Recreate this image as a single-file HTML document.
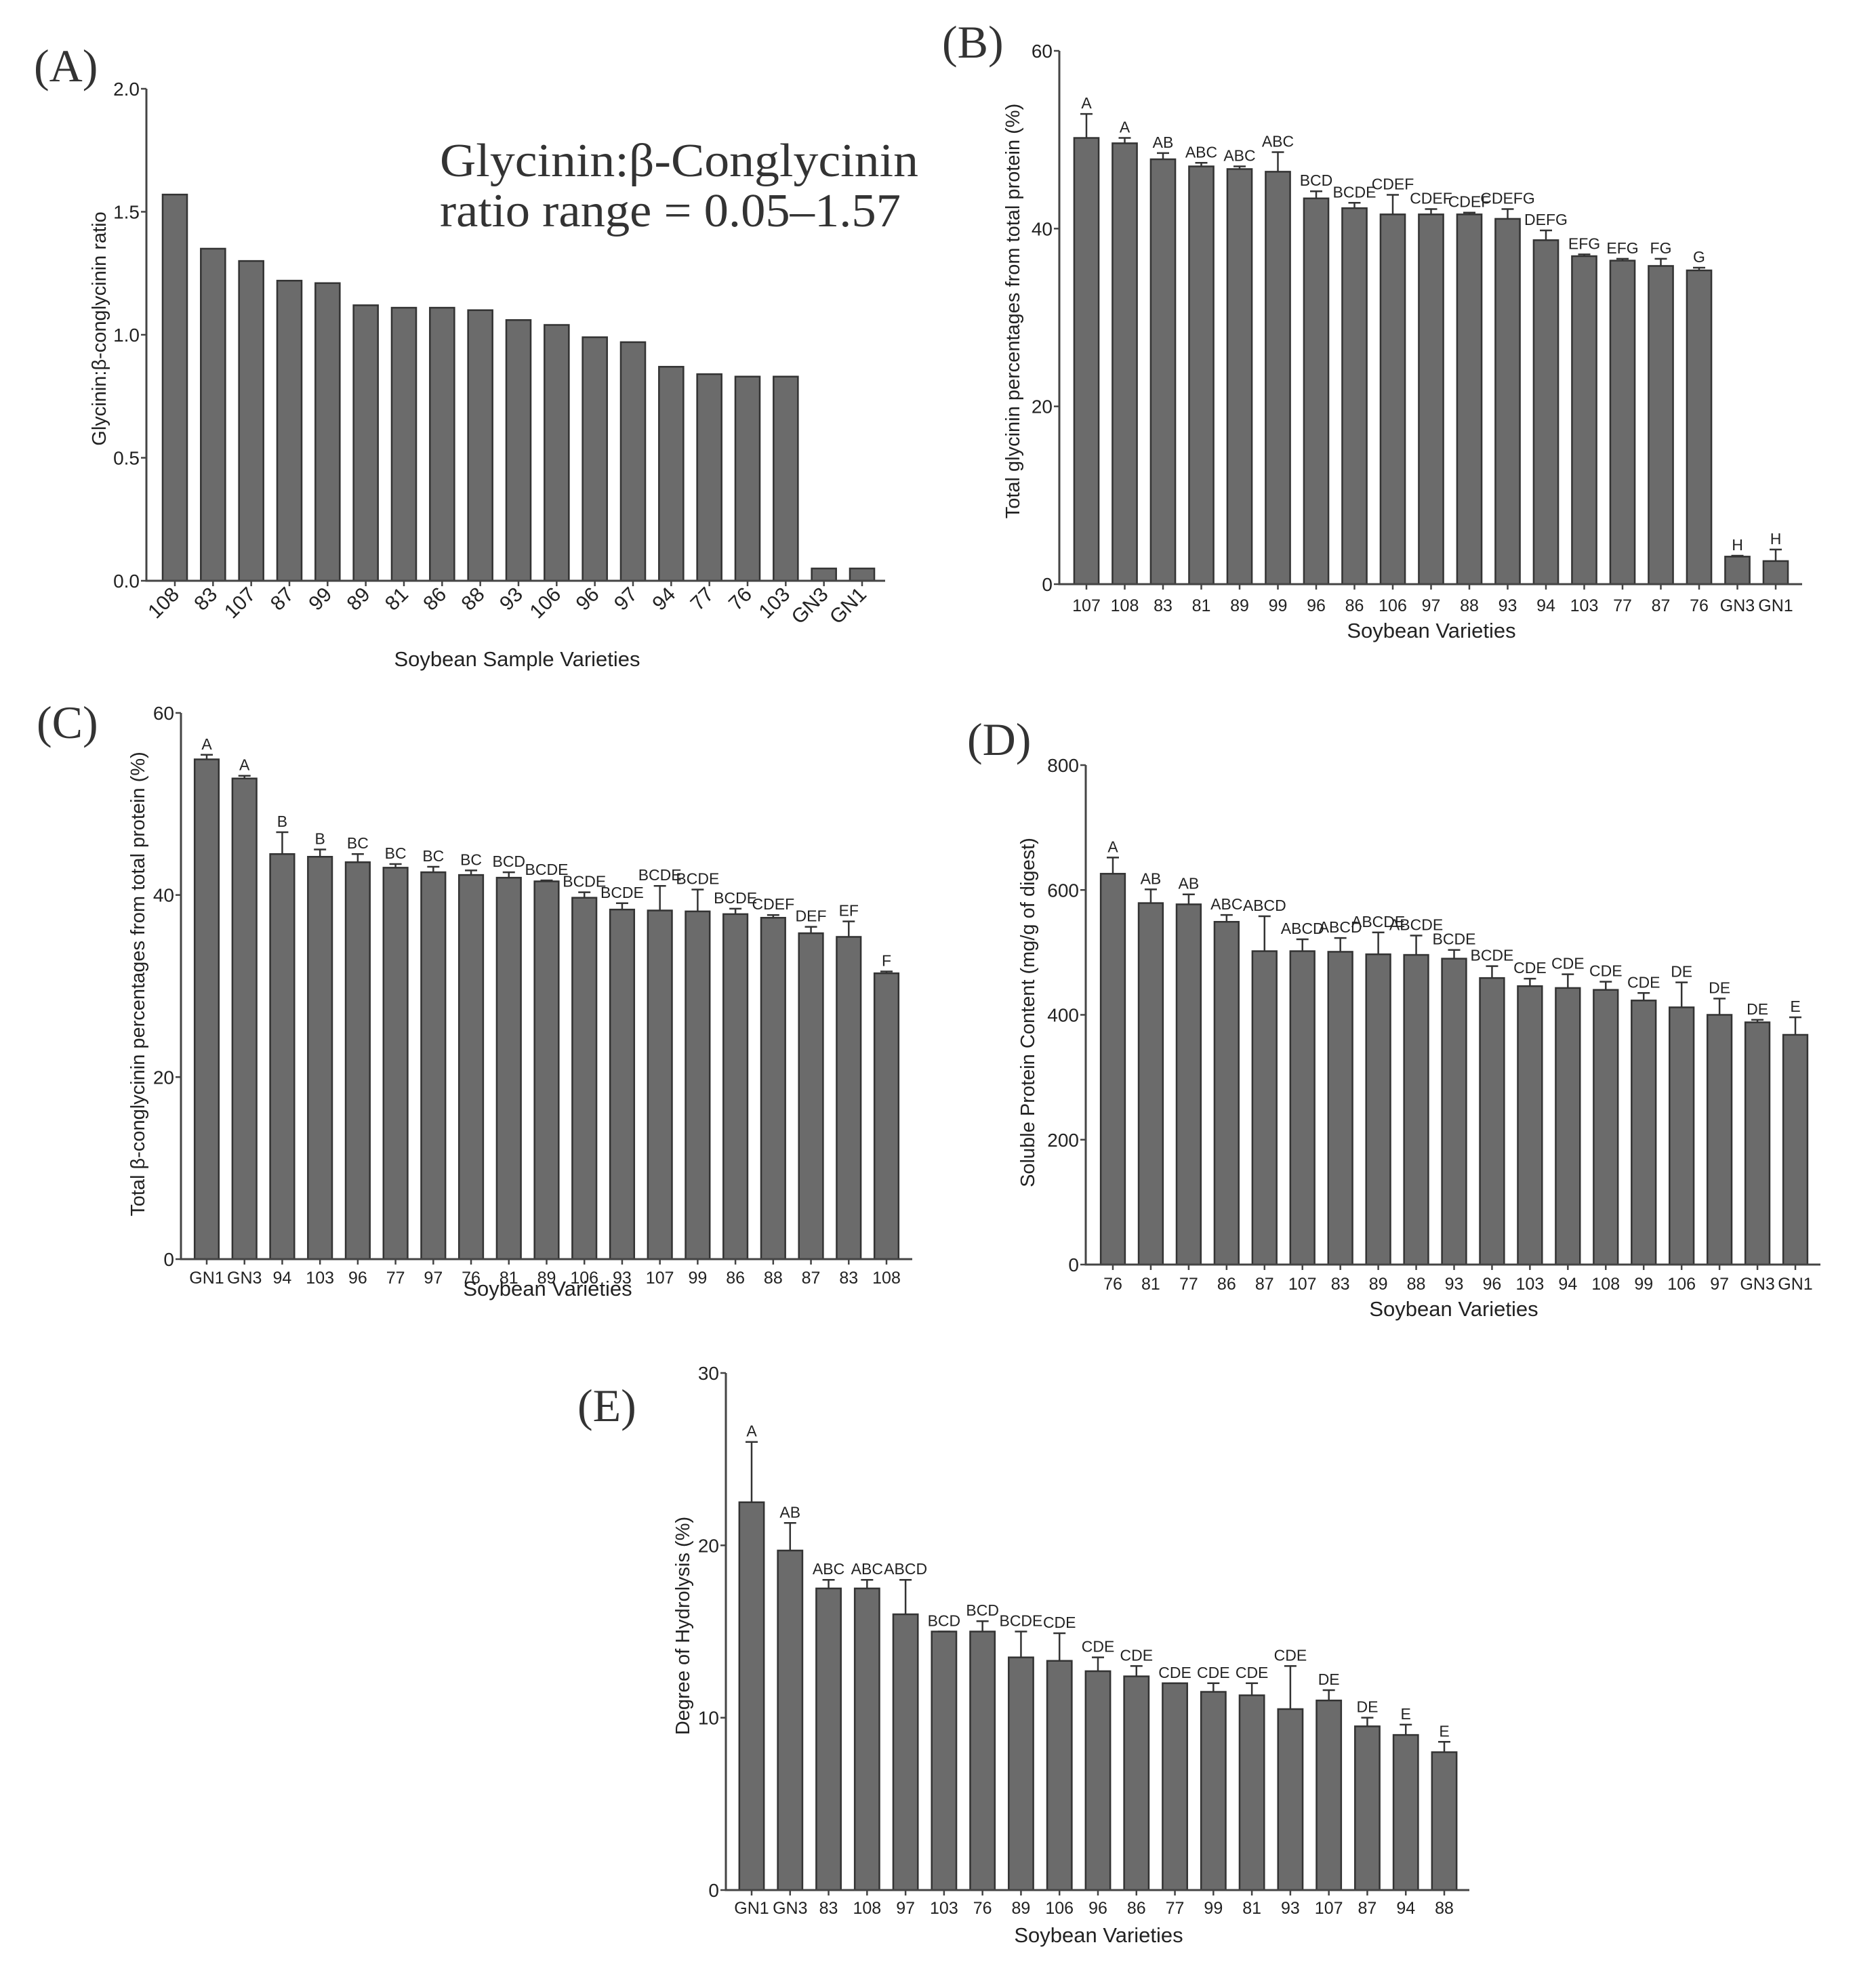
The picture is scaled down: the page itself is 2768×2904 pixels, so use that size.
<!DOCTYPE html>
<html><head><meta charset="utf-8"><style>
html,body{margin:0;padding:0;background:#fff;}
svg{display:block;}
text{font-family:"Liberation Sans",sans-serif;fill:#222;}
.serif{font-family:"Liberation Serif",serif;fill:#333;}
</style></head><body>
<svg id="fig" width="2768" height="2904" viewBox="0 0 2768 2904" xmlns="http://www.w3.org/2000/svg">
<rect width="2768" height="2904" fill="#fff"/>
<text class="serif" x="50" y="120" font-size="68">(A)</text>
<text class="serif" x="1390" y="85" font-size="68">(B)</text>
<text class="serif" x="54" y="1089" font-size="68">(C)</text>
<text class="serif" x="1427" y="1114" font-size="68">(D)</text>
<text class="serif" x="852" y="2097" font-size="68">(E)</text>
<text class="serif" x="649" y="260" font-size="70" textLength="706" lengthAdjust="spacingAndGlyphs">Glycinin:β-Conglycinin</text>
<text class="serif" x="649" y="334" font-size="70" textLength="680" lengthAdjust="spacingAndGlyphs">ratio range = 0.05–1.57</text>
</svg>
<script>
const aCats=["108","83","107","87","99","89","81","86","88","93","106","96","97","94","77","76","103","GN3","GN1"];
const aVals=[1.57,1.35,1.30,1.22,1.21,1.12,1.11,1.11,1.10,1.06,1.04,0.99,0.97,0.87,0.84,0.83,0.83,0.05,0.05];
const aTicks=[0,0.5,1.0,1.5,2.0];

const bCats=["107","108","83","81","89","99","96","86","106","97","88","93","94","103","77","87","76","GN3","GN1"];
const bVals=[50.2,49.6,47.8,47.0,46.7,46.4,43.4,42.3,41.6,41.6,41.6,41.1,38.7,36.9,36.4,35.8,35.3,3.1,2.6];
const bErr=[2.7,0.6,0.7,0.4,0.3,2.2,0.8,0.6,2.2,0.6,0.2,1.1,1.1,0.2,0.2,0.8,0.3,0.1,1.3];
const bLetters=["A","A","AB","ABC","ABC","ABC","BCD","BCDE","CDEF","CDEF","CDEF","CDEFG","DEFG","EFG","EFG","FG","G","H","H"];
const bTicks=[0,20,40,60];

const cCats=["GN1","GN3","94","103","96","77","97","76","81","89","106","93","107","99","86","88","87","83","108"];
const cVals=[54.9,52.8,44.5,44.2,43.6,43.0,42.5,42.2,41.9,41.5,39.7,38.4,38.3,38.2,37.9,37.5,35.8,35.4,31.4];
const cErr=[0.5,0.3,2.4,0.8,0.9,0.4,0.6,0.5,0.6,0.1,0.6,0.7,2.7,2.4,0.6,0.3,0.7,1.7,0.2];
const cLetters=["A","A","B","B","BC","BC","BC","BC","BCD","BCDE","BCDE","BCDE","BCDE","BCDE","BCDE","CDEF","DEF","EF","F"];
const cTicks=[0,20,40,60];

const dCats=["76","81","77","86","87","107","83","89","88","93","96","103","94","108","99","106","97","GN3","GN1"];
const dVals=[626,579,577,549,502,502,501,497,496,490,459,446,443,440,423,412,400,388,368];
const dErr=[26,22,16,11,56,19,22,35,31,14,19,12,22,13,12,40,26,4,28];
const dLetters=["A","AB","AB","ABC","ABCD","ABCD","ABCD","ABCDE","ABCDE","BCDE","BCDE","CDE","CDE","CDE","CDE","DE","DE","DE","E"];
const dTicks=[0,200,400,600,800];

const eCats=["GN1","GN3","83","108","97","103","76","89","106","96","86","77","99","81","93","107","87","94","88"];
const eVals=[22.5,19.7,17.5,17.5,16.0,15.0,15.0,13.5,13.3,12.7,12.4,12.0,11.5,11.3,10.5,11.0,9.5,9.0,8.0];
const eErr=[3.5,1.6,0.5,0.5,2.0,0.0,0.6,1.5,1.6,0.8,0.6,0.0,0.5,0.7,2.5,0.6,0.5,0.6,0.6];
const eLetters=["A","AB","ABC","ABC","ABCD","BCD","BCD","BCDE","CDE","CDE","CDE","CDE","CDE","CDE","CDE","DE","DE","E","E"];
const eTicks=[0,10,20,30];

const NS="http://www.w3.org/2000/svg";
const svg=document.getElementById('fig');
function mk(tag,attrs,parent){const e=document.createElementNS(NS,tag);for(const k in attrs)e.setAttribute(k,attrs[k]);(parent||svg).appendChild(e);return e;}

function panel(p){
  const g=mk('g',{});
  
  
  const n=p.cats.length;
  const pitch=(p.lastX-p.firstX)/(n-1);
  const xs=i=>p.firstX+i*pitch;
  const ys=v=>p.y0-(v-p.min)/(p.max-p.min)*(p.y0-p.yTop);
  const bw=pitch*0.64;
  for(let i=0;i<n;i++){
    const top=ys(p.vals[i]);
    const r=mk('rect',{x:xs(i)-bw/2,y:top,width:bw,height:p.y0-top,fill:'#6b6b6b',stroke:'#333','stroke-width':2.5},g);
    
    
    let labY=top;
    if(p.err){
      const et=ys(p.vals[i]+p.err[i]);
      const eb=mk('path',{d:`M${xs(i)} ${top}V${et}M${xs(i)-9} ${et}H${xs(i)+9}`,stroke:'#333','stroke-width':2.5,fill:'none'},g);
      
      
      labY=et;
    }
    if(p.letters){
      const t=mk('text',{x:xs(i),y:labY-8,'font-size':23,'text-anchor':'middle'},g);
      t.textContent=p.letters[i];
      
      
    }
    mk('line',{x1:xs(i),x2:xs(i),y1:p.y0,y2:p.y0+8,stroke:'#444','stroke-width':2.5},g);
    let tl;
    if(p.rotate){
      tl=mk('text',{x:xs(i)+8,y:p.y0+22,'font-size':30,'text-anchor':'end',transform:`rotate(-45 ${xs(i)+8} ${p.y0+22})`},g);
    }else{
      tl=mk('text',{x:xs(i),y:p.tickY,'font-size':25,'text-anchor':'middle'},g);
    }
    tl.textContent=p.cats[i];
    
    
  }
  const ax=mk('path',{d:`M${p.axX} ${p.yTop}V${p.y0}H${p.right}`,stroke:'#444','stroke-width':3,fill:'none'},g);
  
  
  for(const t of p.ticks){
    const y=ys(t);
    mk('line',{x1:p.axX-8,x2:p.axX,y1:y,y2:y,stroke:'#444','stroke-width':2.5},g);
    const tt=mk('text',{x:p.axX-10,y:y+10,'font-size':28,'text-anchor':'end'},g);
    tt.textContent=p.dec?t.toFixed(1):String(t);
    
    
  }
  const xt=mk('text',{x:p.xtX,y:p.xtY,'font-size':31,'text-anchor':'middle'},g);
  xt.textContent=p.xTitle;
  
  
  const yt=mk('text',{x:p.ytX,y:p.ytY,'font-size':29,'text-anchor':'middle',transform:`rotate(-90 ${p.ytX} ${p.ytY})`},g);
  yt.textContent=p.yTitle;
  
  
}

panel({id:'panel-a',cats:aCats,vals:aVals,ticks:aTicks,dec:true,min:0,max:2,axX:216,yTop:131,y0:857,right:1306,firstX:258,lastX:1272,rotate:true,xTitle:'Soybean Sample Varieties',xtX:763,xtY:983,yTitle:'Glycinin:β-conglycinin ratio',ytX:156,ytY:485});
panel({id:'panel-b',cats:bCats,vals:bVals,err:bErr,letters:bLetters,ticks:bTicks,min:0,max:60,axX:1563,yTop:75,y0:862,right:2659,firstX:1603,lastX:2620,tickY:902,xTitle:'Soybean Varieties',xtX:2112,xtY:941,yTitle:'Total glycinin percentages from total protein (%)',ytX:1504,ytY:459});
panel({id:'panel-c',cats:cCats,vals:cVals,err:cErr,letters:cLetters,ticks:cTicks,min:0,max:60,axX:267,yTop:1052,y0:1858,right:1346,firstX:305,lastX:1308,tickY:1894,xTitle:'Soybean Varieties',xtX:808,xtY:1912,yTitle:'Total β-conglycinin percentages from total protein (%)',ytX:213,ytY:1452});
panel({id:'panel-d',cats:dCats,vals:dVals,err:dErr,letters:dLetters,ticks:dTicks,min:0,max:800,axX:1602,yTop:1129,y0:1866,right:2686,firstX:1642,lastX:2649,tickY:1903,xTitle:'Soybean Varieties',xtX:2145,xtY:1942,yTitle:'Soluble Protein Content (mg/g of digest)',ytX:1526,ytY:1494});
panel({id:'panel-e',cats:eCats,vals:eVals,err:eErr,letters:eLetters,ticks:eTicks,min:0,max:30,axX:1071,yTop:2026,y0:2789,right:2168,firstX:1109,lastX:2131,tickY:2824,xTitle:'Soybean Varieties',xtX:1621,xtY:2866,yTitle:'Degree of Hydrolysis (%)',ytX:1017,ytY:2399});
</script>
</body></html>
